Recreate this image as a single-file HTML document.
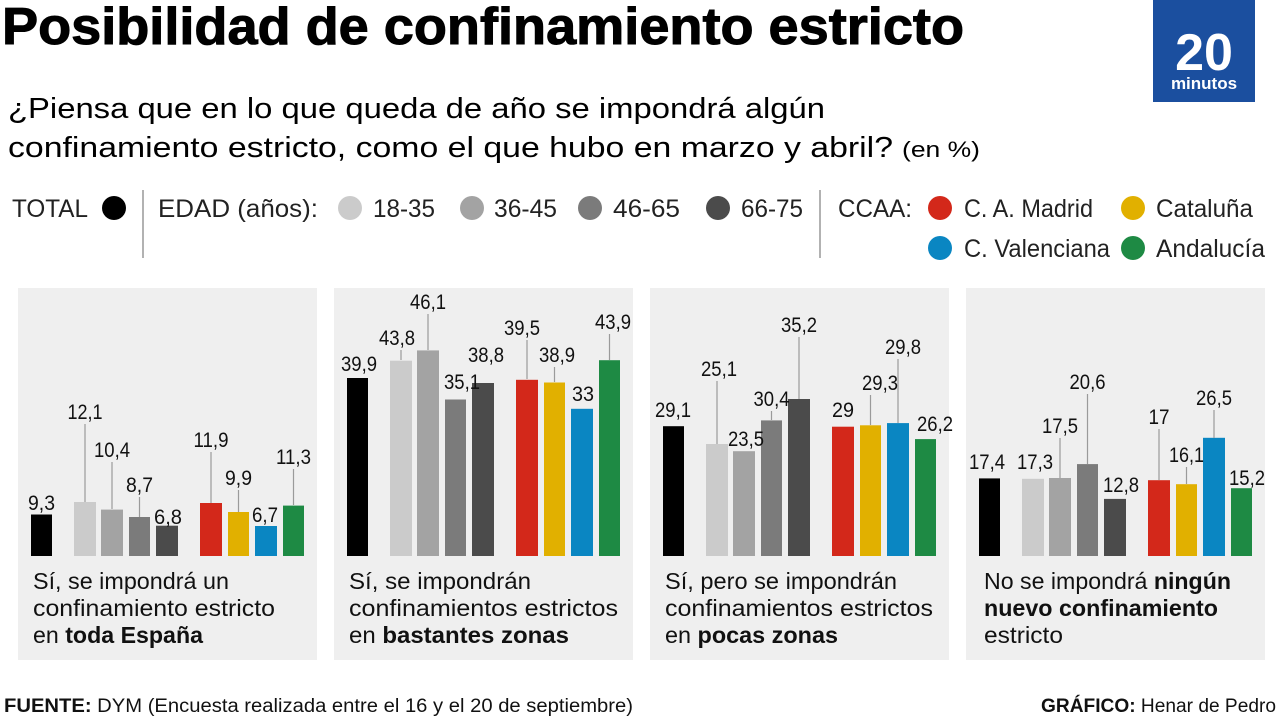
<!DOCTYPE html>
<html><head><meta charset="utf-8"><style>
html,body{margin:0;padding:0;background:#fff;}
svg{display:block;font-family:"Liberation Sans Narrow","Liberation Sans",sans-serif;}
.v{font-size:21px;fill:#111;text-anchor:middle;}
.p{font-size:23px;fill:#111;}
.l{stroke:#9a9a9a;stroke-width:1.2;}
</style></head><body>
<svg width="1280" height="720" viewBox="0 0 1280 720" xmlns="http://www.w3.org/2000/svg">
<rect width="1280" height="720" fill="#fff"/>
<text x="2" y="44" font-size="52" font-weight="bold" fill="#000" textLength="962" lengthAdjust="spacingAndGlyphs" stroke="#000" stroke-width="1">Posibilidad de confinamiento estricto</text>
<rect x="1153" y="0" width="102" height="102" fill="#1b4f9f"/>
<text x="1204" y="70" font-size="52" font-weight="bold" fill="#fff" text-anchor="middle" font-family="Liberation Sans">20</text>
<text x="1204" y="89" font-size="17" font-weight="bold" fill="#fff" text-anchor="middle">minutos</text>
<text x="8" y="118" font-size="29" fill="#000" textLength="817" lengthAdjust="spacingAndGlyphs">¿Piensa que en lo que queda de año se impondrá algún</text>
<text x="8" y="157" font-size="29" fill="#000" textLength="885" lengthAdjust="spacingAndGlyphs">confinamiento estricto, como el que hubo en marzo y abril?</text>
<text x="902" y="157" font-size="22" fill="#000" textLength="78" lengthAdjust="spacingAndGlyphs">(en %)</text>

<g font-size="25" fill="#222">
<text x="12" y="217" textLength="76" lengthAdjust="spacingAndGlyphs">TOTAL</text>
<circle cx="114" cy="208" r="12" fill="#000"/>
<line x1="143" y1="190" x2="143" y2="258" stroke="#999" stroke-width="1.5"/>
<text x="158" y="217" textLength="160" lengthAdjust="spacingAndGlyphs">EDAD (años):</text>
<circle cx="350" cy="208" r="12" fill="#cbcbcb"/><text x="373" y="217" textLength="62" lengthAdjust="spacingAndGlyphs">18-35</text>
<circle cx="472" cy="208" r="12" fill="#a3a3a3"/><text x="494" y="217" textLength="63" lengthAdjust="spacingAndGlyphs">36-45</text>
<circle cx="590" cy="208" r="12" fill="#7b7b7b"/><text x="613" y="217" textLength="67" lengthAdjust="spacingAndGlyphs">46-65</text>
<circle cx="718" cy="208" r="12" fill="#4b4b4b"/><text x="741" y="217" textLength="62" lengthAdjust="spacingAndGlyphs">66-75</text>
<line x1="820" y1="190" x2="820" y2="258" stroke="#999" stroke-width="1.5"/>
<text x="838" y="217" textLength="74" lengthAdjust="spacingAndGlyphs">CCAA:</text>
<circle cx="940" cy="208" r="12" fill="#d3281a"/><text x="964" y="217" textLength="129" lengthAdjust="spacingAndGlyphs">C. A. Madrid</text>
<circle cx="1133" cy="208" r="12" fill="#e1b000"/><text x="1156" y="217" textLength="97" lengthAdjust="spacingAndGlyphs">Cataluña</text>
<circle cx="940" cy="248" r="12" fill="#0a86c2"/><text x="964" y="257" textLength="146" lengthAdjust="spacingAndGlyphs">C. Valenciana</text>
<circle cx="1133" cy="248" r="12" fill="#1e8a44"/><text x="1156" y="257" textLength="109" lengthAdjust="spacingAndGlyphs">Andalucía</text>
</g>

<rect x="18" y="288" width="299" height="372" fill="#efefef"/>
<rect x="334" y="288" width="299" height="372" fill="#efefef"/>
<rect x="650" y="288" width="299" height="372" fill="#efefef"/>
<rect x="966" y="288" width="299" height="372" fill="#efefef"/>

<!-- Panel 1 -->
<g>
<rect x="31" y="514.5" width="21" height="41.5" fill="#000"/>
<rect x="74" y="502" width="22" height="54" fill="#cbcbcb"/>
<rect x="101" y="509.6" width="22" height="46.4" fill="#a3a3a3"/>
<rect x="129" y="517" width="21" height="39" fill="#7b7b7b"/>
<rect x="156" y="525.7" width="22" height="30.3" fill="#4b4b4b"/>
<rect x="200" y="503" width="22" height="53" fill="#d3281a"/>
<rect x="228" y="512" width="21" height="44" fill="#e1b000"/>
<rect x="255" y="526" width="22" height="30" fill="#0a86c2"/>
<rect x="283" y="505.6" width="21" height="50.4" fill="#1e8a44"/>
<line class="l" x1="85" y1="424" x2="85" y2="502"/>
<line class="l" x1="112" y1="462" x2="112" y2="509"/>
<line class="l" x1="139.5" y1="497" x2="139.5" y2="517"/>
<line class="l" x1="211" y1="452" x2="211" y2="503"/>
<line class="l" x1="238.5" y1="490" x2="238.5" y2="512"/>
<line class="l" x1="293.5" y1="469" x2="293.5" y2="505"/>
<text class="v" x="41.5" y="510" textLength="27" lengthAdjust="spacingAndGlyphs">9,3</text>
<text class="v" x="85" y="419" textLength="35" lengthAdjust="spacingAndGlyphs">12,1</text>
<text class="v" x="112" y="457" textLength="36" lengthAdjust="spacingAndGlyphs">10,4</text>
<text class="v" x="139.5" y="492" textLength="27" lengthAdjust="spacingAndGlyphs">8,7</text>
<text class="v" x="168" y="524" textLength="28" lengthAdjust="spacingAndGlyphs">6,8</text>
<text class="v" x="211" y="447" textLength="35" lengthAdjust="spacingAndGlyphs">11,9</text>
<text class="v" x="238.5" y="485" textLength="27" lengthAdjust="spacingAndGlyphs">9,9</text>
<text class="v" x="265" y="522" textLength="26" lengthAdjust="spacingAndGlyphs">6,7</text>
<text class="v" x="293.5" y="464" textLength="35" lengthAdjust="spacingAndGlyphs">11,3</text>
<text class="p" x="33" y="589" textLength="196" lengthAdjust="spacingAndGlyphs">Sí, se impondrá un</text>
<text class="p" x="33" y="616" textLength="242" lengthAdjust="spacingAndGlyphs">confinamiento estricto</text>
<text class="p" x="33" y="643" textLength="170" lengthAdjust="spacingAndGlyphs">en <tspan font-weight="bold">toda España</tspan></text>
</g>

<!-- Panel 2 -->
<g>
<rect x="347" y="378" width="21" height="178" fill="#000"/>
<rect x="390" y="360.7" width="22" height="195.3" fill="#cbcbcb"/>
<rect x="417" y="350.4" width="22" height="205.6" fill="#a3a3a3"/>
<rect x="445" y="399.5" width="21" height="156.5" fill="#7b7b7b"/>
<rect x="472" y="383" width="22" height="173" fill="#4b4b4b"/>
<rect x="516" y="379.8" width="22" height="176.2" fill="#d3281a"/>
<rect x="544" y="382.5" width="21" height="173.5" fill="#e1b000"/>
<rect x="571" y="408.8" width="22" height="147.2" fill="#0a86c2"/>
<rect x="599" y="360.2" width="21" height="195.8" fill="#1e8a44"/>
<line class="l" x1="401" y1="350" x2="401" y2="360"/>
<line class="l" x1="428" y1="314" x2="428" y2="350"/>
<line class="l" x1="527" y1="340" x2="527" y2="379"/>
<line class="l" x1="554.5" y1="367" x2="554.5" y2="382"/>
<line class="l" x1="609.5" y1="334" x2="609.5" y2="360"/>
<text class="v" x="359" y="371" textLength="36" lengthAdjust="spacingAndGlyphs">39,9</text>
<text class="v" x="397" y="345" textLength="36" lengthAdjust="spacingAndGlyphs">43,8</text>
<text class="v" x="428" y="309" textLength="36" lengthAdjust="spacingAndGlyphs">46,1</text>
<text class="v" x="462" y="389" textLength="36" lengthAdjust="spacingAndGlyphs">35,1</text>
<text class="v" x="486" y="362" textLength="36" lengthAdjust="spacingAndGlyphs">38,8</text>
<text class="v" x="522" y="335" textLength="36" lengthAdjust="spacingAndGlyphs">39,5</text>
<text class="v" x="557" y="362" textLength="36" lengthAdjust="spacingAndGlyphs">38,9</text>
<text class="v" x="583" y="401" textLength="22" lengthAdjust="spacingAndGlyphs">33</text>
<text class="v" x="613" y="329" textLength="36" lengthAdjust="spacingAndGlyphs">43,9</text>
<text class="p" x="349" y="589" textLength="182" lengthAdjust="spacingAndGlyphs">Sí, se impondrán</text>
<text class="p" x="349" y="616" textLength="269" lengthAdjust="spacingAndGlyphs">confinamientos estrictos</text>
<text class="p" x="349" y="643" textLength="220" lengthAdjust="spacingAndGlyphs">en <tspan font-weight="bold">bastantes zonas</tspan></text>
</g>

<!-- Panel 3 -->
<g>
<rect x="663" y="426.2" width="21" height="129.8" fill="#000"/>
<rect x="706" y="444" width="22" height="112" fill="#cbcbcb"/>
<rect x="733" y="451.2" width="22" height="104.8" fill="#a3a3a3"/>
<rect x="761" y="420.4" width="21" height="135.6" fill="#7b7b7b"/>
<rect x="788" y="399" width="22" height="157" fill="#4b4b4b"/>
<rect x="832" y="426.7" width="22" height="129.3" fill="#d3281a"/>
<rect x="860" y="425.3" width="21" height="130.7" fill="#e1b000"/>
<rect x="887" y="423.1" width="22" height="132.9" fill="#0a86c2"/>
<rect x="915" y="439.1" width="21" height="116.9" fill="#1e8a44"/>
<line class="l" x1="717" y1="381" x2="717" y2="444"/>
<line class="l" x1="771.5" y1="411" x2="771.5" y2="420"/>
<line class="l" x1="799" y1="337" x2="799" y2="399"/>
<line class="l" x1="870.5" y1="395" x2="870.5" y2="425"/>
<line class="l" x1="898" y1="359" x2="898" y2="423"/>
<text class="v" x="673" y="417" textLength="36" lengthAdjust="spacingAndGlyphs">29,1</text>
<text class="v" x="719" y="376" textLength="36" lengthAdjust="spacingAndGlyphs">25,1</text>
<text class="v" x="746" y="446" textLength="36" lengthAdjust="spacingAndGlyphs">23,5</text>
<text class="v" x="771.5" y="406" textLength="36" lengthAdjust="spacingAndGlyphs">30,4</text>
<text class="v" x="799" y="332" textLength="36" lengthAdjust="spacingAndGlyphs">35,2</text>
<text class="v" x="843" y="417" textLength="22" lengthAdjust="spacingAndGlyphs">29</text>
<text class="v" x="880" y="390" textLength="36" lengthAdjust="spacingAndGlyphs">29,3</text>
<text class="v" x="903" y="354" textLength="36" lengthAdjust="spacingAndGlyphs">29,8</text>
<text class="v" x="935" y="431" textLength="36" lengthAdjust="spacingAndGlyphs">26,2</text>
<text class="p" x="665" y="589" textLength="232" lengthAdjust="spacingAndGlyphs">Sí, pero se impondrán</text>
<text class="p" x="665" y="616" textLength="268" lengthAdjust="spacingAndGlyphs">confinamientos estrictos</text>
<text class="p" x="665" y="643" textLength="173" lengthAdjust="spacingAndGlyphs">en <tspan font-weight="bold">pocas zonas</tspan></text>
</g>

<!-- Panel 4 -->
<g>
<rect x="979" y="478.4" width="21" height="77.6" fill="#000"/>
<rect x="1022" y="478.8" width="22" height="77.2" fill="#cbcbcb"/>
<rect x="1049" y="478" width="22" height="78" fill="#a3a3a3"/>
<rect x="1077" y="464.1" width="21" height="91.9" fill="#7b7b7b"/>
<rect x="1104" y="498.9" width="22" height="57.1" fill="#4b4b4b"/>
<rect x="1148" y="480.2" width="22" height="75.8" fill="#d3281a"/>
<rect x="1176" y="484.2" width="21" height="71.8" fill="#e1b000"/>
<rect x="1203" y="437.8" width="22" height="118.2" fill="#0a86c2"/>
<rect x="1231" y="488.2" width="21" height="67.8" fill="#1e8a44"/>
<line class="l" x1="1060" y1="438" x2="1060" y2="478"/>
<line class="l" x1="1087.5" y1="394" x2="1087.5" y2="464"/>
<line class="l" x1="1159" y1="429" x2="1159" y2="480"/>
<line class="l" x1="1186.5" y1="467" x2="1186.5" y2="484"/>
<line class="l" x1="1214" y1="410" x2="1214" y2="438"/>
<text class="v" x="987" y="469" textLength="36" lengthAdjust="spacingAndGlyphs">17,4</text>
<text class="v" x="1035" y="469" textLength="36" lengthAdjust="spacingAndGlyphs">17,3</text>
<text class="v" x="1060" y="433" textLength="36" lengthAdjust="spacingAndGlyphs">17,5</text>
<text class="v" x="1087.5" y="389" textLength="36" lengthAdjust="spacingAndGlyphs">20,6</text>
<text class="v" x="1121" y="492" textLength="36" lengthAdjust="spacingAndGlyphs">12,8</text>
<text class="v" x="1159" y="424" textLength="21" lengthAdjust="spacingAndGlyphs">17</text>
<text class="v" x="1186.5" y="462" textLength="35" lengthAdjust="spacingAndGlyphs">16,1</text>
<text class="v" x="1214" y="405" textLength="36" lengthAdjust="spacingAndGlyphs">26,5</text>
<text class="v" x="1247" y="485" textLength="36" lengthAdjust="spacingAndGlyphs">15,2</text>
<text class="p" x="984" y="589" textLength="247" lengthAdjust="spacingAndGlyphs">No se impondrá <tspan font-weight="bold">ningún</tspan></text>
<text class="p" x="984" y="616" font-weight="bold" textLength="234" lengthAdjust="spacingAndGlyphs">nuevo confinamiento</text>
<text class="p" x="984" y="643" textLength="79" lengthAdjust="spacingAndGlyphs">estricto</text>
</g>

<text x="4" y="712" font-size="19" fill="#111" textLength="629" lengthAdjust="spacingAndGlyphs"><tspan font-weight="bold">FUENTE:</tspan> DYM (Encuesta realizada entre el 16 y el 20 de septiembre)</text>
<text x="1041" y="712" font-size="19" fill="#111" textLength="235" lengthAdjust="spacingAndGlyphs"><tspan font-weight="bold">GRÁFICO:</tspan> Henar de Pedro</text>
</svg>
</body></html>
